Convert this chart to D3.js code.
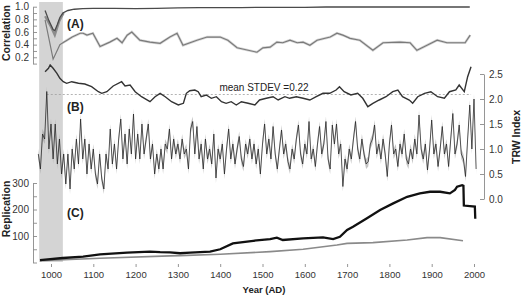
<!DOCTYPE html>
<html>
<head>
<meta charset="utf-8">
<script src="https://cdn.jsdelivr.net/npm/d3@7"></script>
<style>
  body { margin: 0; background: #fff; }
  svg { display: block; }
  text { font-family: "Liberation Sans", Arial, sans-serif; }
</style>
</head>
<body>
<div id="chart"></div>
<script>
// ---------------- data ----------------
// panel A: correlation (top dark line, early gray twin, lower gray line)
const corrTop = [[986,0.94],[995,0.78],[1005,0.64],[1009,0.62],[1015,0.72],[1021,0.83],[1028,0.9],[1040,0.94],[1055,0.96],[1075,0.97],[1100,0.975],[1150,0.975],[1200,0.97],[1250,0.975],[1300,0.98],[1350,0.985],[1450,0.985],[1500,0.99],[1600,0.99],[1650,0.995],[1800,0.995],[1990,0.995]];
const corrTopLow = [[986,0.85],[1000,0.68],[1009,0.55],[1020,0.78],[1030,0.9]];
const corrMean = [[986,0.79],[1005,0.17],[1021,0.40],[1028,0.43],[1038,0.47],[1050,0.52],[1069,0.58],[1076,0.58],[1085,0.55],[1099,0.58],[1116,0.37],[1139,0.44],[1156,0.50],[1168,0.43],[1180,0.55],[1191,0.60],[1210,0.47],[1234,0.44],[1258,0.42],[1281,0.52],[1298,0.58],[1312,0.39],[1345,0.47],[1369,0.52],[1400,0.52],[1418,0.47],[1440,0.35],[1487,0.28],[1501,0.35],[1518,0.36],[1534,0.44],[1548,0.43],[1565,0.47],[1582,0.43],[1596,0.44],[1612,0.39],[1629,0.47],[1660,0.52],[1676,0.58],[1690,0.55],[1707,0.50],[1730,0.47],[1761,0.31],[1785,0.43],[1825,0.44],[1849,0.43],[1865,0.31],[1889,0.39],[1913,0.47],[1936,0.43],[1960,0.43],[1979,0.43],[1991,0.55]];

// panel B: running STDEV
const stdevMean = 0.22;
const stdev = [[986,0.448],[994,0.482],[998,0.515],[1005,0.482],[1014,0.432],[1021,0.382],[1029,0.348],[1037,0.332],[1049,0.348],[1065,0.332],[1080,0.325],[1096,0.298],[1112,0.248],[1120,0.232],[1132,0.248],[1147,0.305],[1167,0.348],[1175,0.305],[1187,0.315],[1199,0.248],[1214,0.198],[1234,0.148],[1246,0.198],[1258,0.232],[1270,0.198],[1285,0.148],[1301,0.115],[1313,0.132],[1320,0.232],[1328,0.258],[1340,0.265],[1348,0.248],[1355,0.198],[1367,0.215],[1379,0.182],[1391,0.198],[1403,0.148],[1414,0.132],[1426,0.148],[1438,0.115],[1450,0.148],[1466,0.132],[1482,0.115],[1493,0.165],[1509,0.182],[1525,0.198],[1537,0.165],[1553,0.198],[1564,0.182],[1580,0.198],[1596,0.182],[1612,0.165],[1627,0.198],[1643,0.232],[1659,0.232],[1674,0.265],[1682,0.298],[1693,0.248],[1709,0.215],[1725,0.232],[1737,0.182],[1749,0.098],[1761,0.132],[1776,0.165],[1792,0.198],[1808,0.248],[1820,0.265],[1831,0.198],[1847,0.165],[1855,0.132],[1867,0.198],[1883,0.232],[1898,0.248],[1914,0.198],[1930,0.182],[1942,0.248],[1957,0.265],[1965,0.315],[1977,0.248],[1985,0.398],[1993,0.498]];

// panel B: TRW index, 5-year steps from 970
const trwStart = 970, trwStep = 5;
const trw = [
  0.9,0.6,1.3,1.2,2.15,1.0,1.5,0.8,1.5,0.7,1.2,0.5,0.9,0.3,0.9,0.2,1.0,0.6,1.2,0.7,
  1.6,0.8,1.2,0.5,1.1,0.6,1.0,0.5,0.3,0.9,0.4,0.2,0.9,0.6,1.4,0.7,1.1,0.6,1.2,1.6,
  0.8,1.3,0.7,1.4,0.9,1.7,0.8,1.3,0.8,1.5,0.9,1.2,1.5,0.8,1.1,0.5,0.9,0.6,1.0,0.6,
  1.1,1.0,1.4,0.8,1.2,0.9,1.1,0.8,1.2,0.9,
  1.0,0.6,1.4,1.55,0.9,1.45,0.8,1.1,0.6,1.2,0.8,1.0,0.7,1.3,0.42,1.0,0.8,1.1,0.5,1.0,
  1.4,0.8,1.1,0.7,1.0,1.25,0.8,0.65,1.1,0.9,1.2,0.8,1.1,0.7,1.0,0.5,1.1,1.5,0.9,1.2,
  0.8,1.45,0.9,0.6,1.0,1.38,0.9,1.1,0.75,0.6,1.0,0.8,1.2,1.48,0.9,0.7,1.1,0.9,1.55,0.8,
  1.0,0.65,1.1,1.45,0.9,1.1,1.55,0.8,0.6,1.48,
  1.1,1.5,0.9,1.1,0.25,0.8,0.6,1.0,0.8,1.2,1.55,1.0,0.8,1.2,0.9,0.7,0.75,1.1,1.2,1.48,
  0.9,1.1,0.8,1.2,0.9,0.45,1.1,1.48,0.9,1.0,0.65,1.1,0.9,1.3,0.8,0.7,1.0,0.8,1.2,0.9,
  1.68,1.0,0.8,1.1,0.58,1.0,1.58,0.9,1.1,0.65,1.0,1.45,0.9,1.1,0.65,1.2,1.71,0.9,1.1,1.48,
  0.9,0.8,0.45,1.2,1.88,1.0,2.0,0.6
];

// panel C: replication (sample depth) and second gray series
const replication = [[974,9],[1028,17],[1076,22],[1116,31],[1180,37],[1234,41],[1258,39],[1281,38],[1305,35],[1329,37],[1376,41],[1400,50],[1430,72],[1478,82],[1518,88],[1534,94],[1548,85],[1596,91],[1643,95],[1667,88],[1683,97],[1700,123],[1714,135],[1747,167],[1778,198],[1809,223],[1842,248],[1872,261],[1896,267],[1920,267],[1943,261],[1955,274],[1960,286],[1972,292],[1975,290],[1976,215],[2002,211],[2003,165]];
const replication2 = [[974,7],[1116,16],[1281,25],[1305,26],[1400,31],[1518,41],[1596,50],[1676,66],[1700,72],[1761,75],[1842,85],[1889,94],[1920,94],[1974,82]];

const shadeYears = [972, 1028];
const xTicks = [1000,1100,1200,1300,1400,1500,1600,1700,1800,1900,2000];

// ---------------- chart ----------------
(() => {
  const width = 522, height = 297;

  const svg = d3.select("#chart").append("svg")
    .attr("width", width)
    .attr("height", height);

  svg.append("rect").attr("width", width).attr("height", height).attr("fill", "#fff");

  const x = d3.scaleLinear().domain([1000, 2000]).range([51, 474]);
  const yCorr = d3.scaleLinear().domain([0.1, 1.0]).range([63.6, 6.7]);
  const ySd = d3.scaleLinear().domain([0.22, 0.72]).range([94.5, 44.5]);
  const yTrw = d3.scaleLinear().domain([0, 2.5]).range([199, 74]);
  const yRep = d3.scaleLinear().domain([0, 300]).range([262.5, 183]);

  // shaded early period
  svg.append("rect")
    .attr("x", x(shadeYears[0]))
    .attr("width", x(shadeYears[1]) - x(shadeYears[0]))
    .attr("y", 2)
    .attr("height", 260)
    .attr("fill", "#d4d4d4");

  const line = (ys) => d3.line().x(d => x(d[0])).y(d => ys(d[1]));

  // ---- axes ----
  function styleAxis(sel) {
    sel.selectAll("path.domain").attr("stroke", "#8a8a8a").attr("stroke-width", 0.9);
    sel.selectAll(".tick line").attr("stroke", "#8a8a8a").attr("stroke-width", 0.9);
    sel.selectAll(".tick text").attr("fill", "#333")
      .style("font-family", "'Liberation Sans', Arial, sans-serif");
  }

  svg.append("g")
    .attr("transform", "translate(33,0)")
    .call(d3.axisLeft(yCorr)
      .tickValues(d3.range(1, 11).map(i => i / 10))
      .tickSizeInner(-4).tickSizeOuter(0).tickPadding(4)
      .tickFormat(d => Math.round(d * 10) % 2 === 0 ? d3.format(".1f")(d) : ""))
    .attr("font-size", 10)
    .call(styleAxis);

  svg.append("g")
    .attr("transform", "translate(33,0)")
    .call(d3.axisLeft(yRep)
      .tickValues(d3.range(0, 301, 50))
      .tickSizeInner(-4).tickSizeOuter(0).tickPadding(4)
      .tickFormat(d => d > 0 && d % 100 === 0 ? d : ""))
    .attr("font-size", 10)
    .call(styleAxis);

  svg.append("g")
    .attr("transform", "translate(484,0)")
    .call(d3.axisRight(yTrw)
      .tickValues(d3.range(0, 6).map(i => i / 2))
      .tickSizeInner(-4).tickSizeOuter(0).tickPadding(5)
      .tickFormat(d3.format(".1f")))
    .attr("font-size", 10)
    .call(styleAxis);

  const xAxis = svg.append("g")
    .attr("transform", "translate(0,267)")
    .call(d3.axisBottom(x)
      .tickValues(xTicks)
      .tickSizeInner(-3).tickSizeOuter(0).tickPadding(4)
      .tickFormat(d3.format("d")))
    .attr("font-size", 9.5)
    .call(styleAxis);
  xAxis.select("path.domain").remove();

  // ---- panel A ----
  svg.append("path").datum(corrMean)
    .attr("d", line(yCorr))
    .attr("fill", "none").attr("stroke", "#d6d6d6").attr("stroke-width", 2.6);
  svg.append("path").datum(corrMean)
    .attr("d", line(yCorr))
    .attr("fill", "none").attr("stroke", "#7a7a7a").attr("stroke-width", 1.2);
  svg.append("path").datum(corrTopLow)
    .attr("d", line(yCorr))
    .attr("fill", "none").attr("stroke", "#8c8c8c").attr("stroke-width", 2.2);
  svg.append("path").datum(corrTop)
    .attr("d", line(yCorr))
    .attr("fill", "none").attr("stroke", "#4a4a4a").attr("stroke-width", 1.3);

  // ---- panel B ----
  svg.append("line")
    .attr("x1", x(990)).attr("x2", x(1993))
    .attr("y1", ySd(stdevMean)).attr("y2", ySd(stdevMean))
    .attr("stroke", "#a0a0a0").attr("stroke-width", 0.8)
    .attr("stroke-dasharray", "2,2");

  svg.append("path").datum(stdev)
    .attr("d", line(ySd))
    .attr("fill", "none").attr("stroke", "#333").attr("stroke-width", 1.4);

  const trwData = trw.map((v, i) => [trwStart + i * trwStep, v]);

  svg.append("path").datum(trwData)
    .attr("d", d3.area()
      .x(d => x(d[0]))
      .y0(d => yTrw(d[1] - 0.1))
      .y1(d => yTrw(d[1] + 0.1)))
    .attr("fill", "#8a8a8a").attr("fill-opacity", 0.5);

  svg.append("path").datum(trwData)
    .attr("d", line(yTrw))
    .attr("fill", "none").attr("stroke", "#1a1a1a").attr("stroke-width", 0.7);

  // ---- panel C ----
  svg.append("path").datum(replication2)
    .attr("d", line(yRep))
    .attr("fill", "none").attr("stroke", "#8a8a8a").attr("stroke-width", 1.6);
  svg.append("path").datum(replication)
    .attr("d", line(yRep))
    .attr("fill", "none").attr("stroke", "#111").attr("stroke-width", 2.3);

  // ---- labels ----
  const panelLabels = [["(A)", 28], ["(B)", 111], ["(C)", 217]];
  svg.selectAll(".panel-label")
    .data(panelLabels)
    .enter()
    .append("text")
    .attr("class", "panel-label")
    .attr("x", 67).attr("y", d => d[1])
    .attr("font-size", 12).attr("font-weight", "bold").attr("fill", "#222")
    .text(d => d[0]);

  svg.append("text")
    .attr("x", 264).attr("y", 91)
    .attr("text-anchor", "middle")
    .attr("font-size", 10).attr("fill", "#222")
    .text("mean STDEV =0.22");

  svg.append("text")
    .attr("x", 264).attr("y", 293)
    .attr("text-anchor", "middle")
    .attr("font-size", 9.5).attr("font-weight", "bold").attr("fill", "#222")
    .text("Year (AD)");

  const vLabels = [["Correlation", 10, 33], ["Replication", 10, 209], ["TRW Index", 520, 137]];
  svg.selectAll(".v-label")
    .data(vLabels)
    .enter()
    .append("text")
    .attr("class", "v-label")
    .attr("transform", d => `translate(${d[1]},${d[2]}) rotate(-90)`)
    .attr("text-anchor", "middle")
    .attr("font-size", 10.5).attr("font-weight", "bold").attr("fill", "#222")
    .text(d => d[0]);
})();
</script>
</body>
</html>
